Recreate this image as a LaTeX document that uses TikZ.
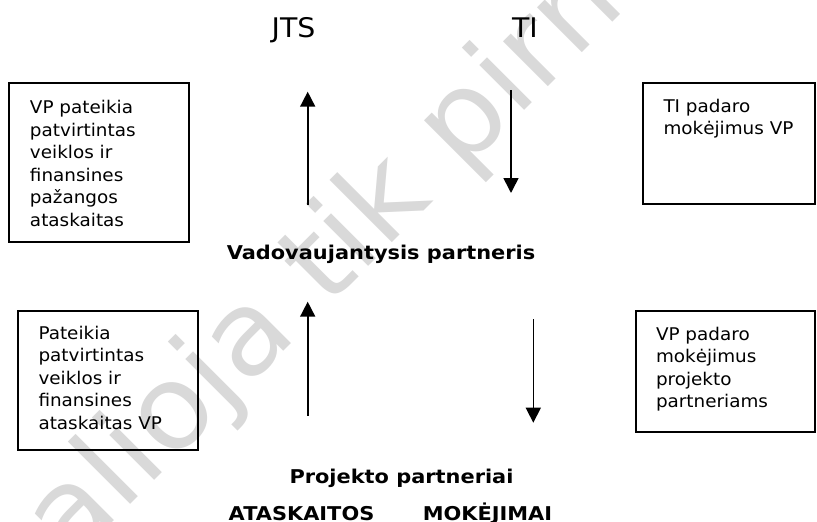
\documentclass[tikz,border=0pt]{standalone}
\usepackage{fontspec}
\setmainfont{DejaVu Sans}[FakeStretch=1.05]
\newfontfamily\widebold{DejaVu Sans}[FakeStretch=1.1]
\usetikzlibrary{arrows.meta,positioning}

\begin{document}
\begin{tikzpicture}[x=1pt, y=-1pt,
    box/.style={draw, line width=1.4pt, inner sep=0pt},
    txt/.style={anchor=north west, align=left, inner sep=0pt, font=\fontsize{17.5}{22.5}\selectfont},
    head/.style={anchor=base, inner sep=0pt, font=\widebold\bfseries\fontsize{19}{22}\selectfont},
    big/.style={anchor=base, inner sep=0pt, font=\fontsize{27}{30}\selectfont},
    flow/.style={line width=1.6pt, -{Triangle[width=15pt,length=15pt]}}]
    \useasboundingbox (0,0) rectangle (817,522);
    \clip (0,0) rectangle (817,522);

    % Watermark
    \node[rotate=45, text=black!15, inner sep=0pt, font=\fontsize{116}{116}\selectfont] (mark) at (314,276) {galioja tik pirm};

    % Top labels
    \node[big] (jts) at (293.5,37) {JTS};
    \node[big] (ti) at (525,37) {TI};

    % Boxes
    \node[box, minimum width=180pt, minimum height=159pt] (b1) at (99,162.5) {};
    \node[box, minimum width=172pt, minimum height=121pt] (b2) at (729,143.5) {};
    \node[box, minimum width=180pt, minimum height=139pt] (b3) at (108,380.5) {};
    \node[box, minimum width=179pt, minimum height=121pt] (b4) at (725.5,371.5) {};

    % Box texts
    \node[txt] (t1) at ([shift={(21.5,18)}]b1.north west) {VP pateikia\\patvirtintas\\veiklos ir\\finansines\\pažangos\\ataskaitas};
    \node[txt] (t2) at ([shift={(21,16.5)}]b2.north west) {TI padaro\\mokėjimus VP};
    \node[txt] (t3) at ([shift={(21,15.5)}]b3.north west) {Pateikia\\patvirtintas\\veiklos ir\\finansines\\ataskaitas VP};
    \node[txt] (t4) at ([shift={(20.5,16.5)}]b4.north west) {VP padaro\\mokėjimus\\projekto\\partneriams};

    % Partners
    \node[head] (vp) at (381,259) {Vadovaujantysis partneris};
    \node[head] (pp) at (401.5,483) {Projekto partneriai};
    \node[head] (ats) at (301.5,520) {ATASKAITOS};
    \node[head] (mok) at (487.5,520) {MOKĖJIMAI};

    % Flows
    \coordinate (up1s) at (307.7,205);
    \coordinate (up1e) at (307.7,91.7);
    \coordinate (dn1s) at (511,90);
    \coordinate (dn1e) at (511,193);
    \coordinate (up2s) at (307.7,415.7);
    \coordinate (up2e) at (307.7,301.7);
    \coordinate (dn2s) at (533.3,319.3);
    \coordinate (dn2e) at (533.3,422.7);
    \draw[flow] (up1s) -- (up1e);
    \draw[flow] (dn1s) -- (dn1e);
    \draw[flow] (up2s) -- (up2e);
    \draw[flow] (dn2s) -- (dn2e);

\end{tikzpicture}
\end{document}
